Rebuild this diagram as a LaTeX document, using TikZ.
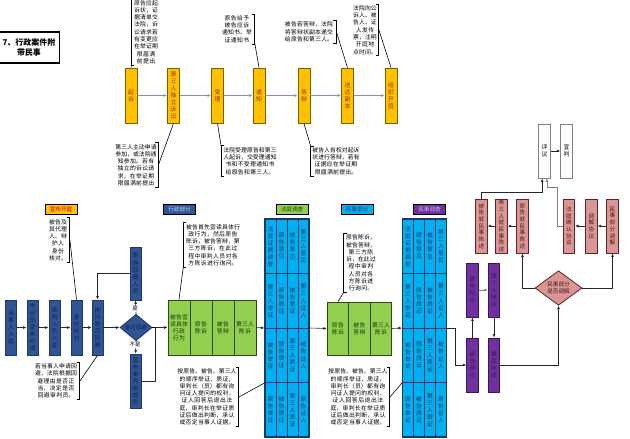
\documentclass[tikz,border=0pt]{standalone}
\usepackage{fontspec}
\setmainfont{Noto Sans CJK SC}
\XeTeXlinebreaklocale "zh"
\XeTeXlinebreakskip=0pt plus 1pt
\usepackage{xcolor}
\usetikzlibrary{shapes.geometric,arrows.meta}
\definecolor{yel}{HTML}{FFC000}
\definecolor{yeldraw}{HTML}{7F6000}
\definecolor{yeltext}{HTML}{8B3A0A}
\definecolor{navy}{HTML}{2F5597}
\definecolor{navydraw}{HTML}{1F3864}
\definecolor{navytext}{HTML}{15233F}
\definecolor{grn}{HTML}{92D050}
\definecolor{grndraw}{HTML}{2E4A14}
\definecolor{grntext}{HTML}{1E3A0C}
\definecolor{cyanf}{HTML}{00B0F0}
\definecolor{cyandraw}{HTML}{1F3864}
\definecolor{cyantext}{HTML}{1F3864}
\definecolor{purp}{HTML}{7030A0}
\definecolor{purpdraw}{HTML}{3B1858}
\definecolor{purptext}{HTML}{3A1D55}
\definecolor{rose}{HTML}{D99694}
\definecolor{rosedraw}{HTML}{632523}
\definecolor{rosetext}{HTML}{4A1A18}
\definecolor{arrgrey}{HTML}{7F93B0}
\newcommand{\vfont}{\fontsize{5}{6}\selectfont}
\newcommand{\nfont}{\fontsize{5}{6.2}\selectfont}
\newcommand{\brkL}[1]{\draw[brk] ([xshift=2.5pt]#1.north west) -- (#1.north west) -- (#1.south west) -- ([xshift=2.5pt]#1.south west);}
\newcommand{\brkR}[1]{\draw[brk] ([xshift=-2.5pt]#1.north east) -- (#1.north east) -- (#1.south east) -- ([xshift=-2.5pt]#1.south east);}
\tikzset{
  flowbox/.style={draw, line width=0.7pt, inner sep=0pt, align=center, font=\vfont, text width=5.4pt, minimum width=3.4mm, minimum height=16.2mm},
  ybox/.style={flowbox, fill=yel, draw=yeldraw, text=yeltext, minimum width=3.6mm, minimum height=16.5mm},
  dbox/.style={flowbox, fill=navy, draw=navydraw, text=navytext, minimum width=3.3mm, minimum height=16.5mm},
  cell/.style={flowbox, fill=cyanf, draw=cyandraw, text=cyantext, minimum width=3.3mm, minimum height=16.35mm},
  gcell/.style={flowbox, fill=grn, draw=grndraw, text=grntext, text width=5.8mm, minimum width=6.6mm, minimum height=16.5mm},
  pbox/.style={flowbox, fill=purp, draw=purpdraw, text=purptext},
  rbox/.style={flowbox, fill=rose, draw=rosedraw, text=rosetext, font=\fontsize{4.8}{5.7}\selectfont},
  wbox/.style={flowbox, fill=white, draw=gray},
  lab/.style={draw=black, line width=0.5pt, minimum width=9.6mm, minimum height=3mm, inner sep=0pt, font=\fontsize{4.8}{5}\selectfont},
  note/.style={font=\nfont, align=center, inner sep=1pt},
  brk/.style={line width=0.8pt},
  call/.style={line width=0.5pt},
  arr/.style={-{Latex[length=3pt,width=2.4pt]}, line width=0.5pt, draw=black!85},
  tarr/.style={arr, draw=arrgrey},
  dia/.style={diamond, draw, line width=0.7pt, inner sep=0pt, align=center},
}
\newcommand{\evgrid}[2]{%
  \foreach \c/\r/\t in {0/0/法庭证据调查, 1/0/原告意见, 2/0/被告意见, 3/0/第三人意见,
      0/1/第三人举证, 1/1/原告质证, 2/1/被告质证, 3/1/第三人证人,
      0/2/被告举证, 1/2/原告质证, 2/2/第三人质证, 3/2/被告证人,
      0/3/原告举证, 1/3/被告质证, 2/3/第三人质证, 3/3/原告证人}
    \node[cell] (#1-\r-\c) at ({#2-16.5+11*\c},{246.25+54.5*\r}) {\t};
  \node[draw=cyandraw, line width=0.9pt, minimum width=13.2mm, minimum height=65.4mm, inner sep=0pt] (#1) at (#2,328) {};
}

\begin{document}
\begin{tikzpicture}[x=0.3mm, y=-0.3mm]
  \useasboundingbox (0,0) rectangle (630,438);

  % title
  \node[draw, line width=1.2pt, minimum width=16.2mm, minimum height=9.3mm, align=center,
    font=\fontsize{6.8}{8.5}\selectfont\bfseries] (title) at (29,47.5) {7、行政案件附\\带民事};

  % upper row: from filing to hearing
  \node[ybox] (qisu)    at (131,95.5)   {起诉};
  \node[ybox] (dsr)     at (173.5,95.5) {第三人独立诉讼};
  \node[ybox] (shouli)  at (217.5,95.5) {受理};
  \node[ybox] (tongzhi) at (259,95.5)   {通知};
  \node[ybox] (dabian)  at (304,95.5)   {答辩};
  \node[ybox] (songda)  at (347.5,95.5) {送达副本};
  \node[ybox] (kaiting) at (391,95.5)   {组织开庭};
  \foreach \a/\b in {qisu/dsr, dsr/shouli, shouli/tongzhi, tongzhi/dabian, dabian/songda, songda/kaiting}
    \draw[tarr] (\a.east) -- (\b.west);

  % upper notes
  \node[note, text width=8mm]    (qisunote)   at (146,32)  {原告应起诉状，证据清单交法院，诉讼请求若有变更应在举证期限届满前提出};
  \node[note, text width=12.6mm] (dsrnote)    at (136,165) {第三人主动申请参加，或法院通知参加。若有独立的诉讼请求，在举证期限届满前提出};
  \node[note, text width=16.5mm] (shoulinote) at (250,161) {法院受理原告和第三人起诉，交受理通知书和不受理通知书给原告和第三人。};
  \node[note, text width=9.9mm]  (tzhnote)    at (237,29)  {原告给予被告应诉通知书、举证通知书};
  \node[note, text width=15.6mm] (sdnote)     at (309,32)  {被告若答辩，法院将答辩状副本递交给原告和第三人。};
  \node[note, text width=14.4mm] (dbnote)     at (336,161) {被告人有权对起诉状进行答辩，若有证据应在举证期限届满前提出。};
  \node[note, text width=7.5mm]  (ktnote)     at (365,30)  {法院向公诉人、被告人、证人发传票，注明开庭地点时间。};
  \brkL{qisunote} \brkR{dsrnote} \brkL{shoulinote} \brkR{tzhnote}
  \brkR{sdnote} \brkL{dbnote} \brkR{ktnote}
  \draw[call] (qisunote.south west) -- (qisu.north);
  \draw[call] (dsrnote.east) -- (dsr.south);
  \draw[call] (shoulinote.north west) -- (shouli.south);
  \draw[call] (tzhnote.south east) -- (tongzhi.north);
  \draw[call] (sdnote.east) -- (songda.north);
  \draw[call] (dbnote.north west) -- (dabian.south);
  \draw[call] (ktnote.east) -- (kaiting.north);

  % stage labels
  \node[lab, fill=yel, text=red!75!black]   (l1) at (61,209)    {宣布开庭};
  \node[lab, fill=navy, text=navy!25]       (l2) at (179.5,209) {行政部分};
  \node[lab, fill=grn, text=grntext]        (l3) at (292,209)   {法庭调查};
  \node[lab, fill=cyanf, text=cyantext]     (l4) at (357,209)   {民事部分};
  \node[lab, fill=purp, text=purp!35]       (l5) at (429.5,209) {民事调查};

  % opening of the hearing
  \node[dbox] (ruting)  at (11,327.5)   {当事人入庭};
  \node[dbox] (jilv)    at (32.5,327.5) {书记员宣布纪律};
  \node[dbox] (shenpan) at (54.5,327.5) {审判人员入庭};
  \node[dbox] (hedui)   at (76.5,327.5) {身份核对};
  \node[dbox] (xunwen)  at (97.5,327.5) {询问是否回避};
  \node[dia, fill=navy, draw=navydraw, text=navytext, minimum width=9.6mm, minimum height=5.7mm,
    font=\fontsize{4.6}{5}\selectfont] (shifou) at (136,327.5) {是否回避};
  \node[dbox, minimum height=15.9mm] (genghuan) at (135.5,273.5) {更换回避人员};
  \node[dbox, minimum height=16.2mm] (xuanbu)   at (135.5,381)   {宣布审判组成员};
  \foreach \a/\b in {ruting/jilv, jilv/shenpan, shenpan/hedui, hedui/xunwen, xunwen/shifou}
    \draw[arr] (\a.east) -- (\b.west);
  \draw[arr] (shifou.north) -- (genghuan.south);
  \draw[arr] (shifou.south) -- (xuanbu.north);
  \draw[arr] (genghuan.west) -| (xunwen.north);
  \node[fill=white, inner sep=0.5pt, font=\fontsize{4.6}{5}\selectfont] (shi)   at (135,309) {是};
  \node[fill=white, inner sep=0.5pt, font=\fontsize{4.6}{5}\selectfont] (bushi) at (135,345) {不是};
  \node[note, text width=6.3mm]  (hdnote) at (58,240) {被告及其代理人、辩护人身份核对。};
  \node[note, text width=13.5mm] (hbnote) at (56,381) {若当事人申请回避，法院根据回避理由是否正当，决定是否回避审判员。};
  \brkR{hdnote} \brkR{hbnote}
  \draw[call] (hdnote.east) -- (hedui.north);
  \draw[call] (hbnote.east) -- (xunwen.south);

  % administrative part
  \coordinate (jn) at (155,327.5);
  \node[gcell] (gA1) at (179,327.5) {被告宣读具体行政行为};
  \node[gcell] (gA2) at (201,327.5) {原告陈诉};
  \node[gcell] (gA3) at (223,327.5) {被告答辩};
  \node[gcell] (gA4) at (245,327.5) {第三人陈诉};
  \draw[call] (shifou.east) -- (jn);
  \draw[arr] (xuanbu.east) -| (jn) -- (gA1.west);
  \node[note, text width=17mm] (gAnote) at (213,245) {被告首先宣读具体行政行为，然后原告陈诉，被告答辩，第三方陈诉，在此过程中审判人员对各方陈诉进行询问。};
  \brkL{gAnote}
  \draw[call] (gAnote.south west) -- (gA1.north);

  \evgrid{grid1}{287}
  \draw[arr] (gA4.east) -- (grid1.west);
  \node[note, text width=18.3mm] (g1note) at (207,397) {按原告、被告、第三人的顺序举证、质证，审判长（员）都有询问证人提问的权利，证人回答后退出法庭，审判长在举证质证后做出判断，承认或否定当事人证据。};
  \brkR{g1note}
  \draw[call] (g1note.east) -- (grid1-2-0.south west);

  % civil part
  \node[gcell, minimum width=6.5mm, minimum height=15.9mm] (gB1) at (338,328.5)   {原告陈诉};
  \node[gcell, minimum width=6.5mm, minimum height=15.9mm] (gB2) at (359.5,328.5) {被告答辩};
  \node[gcell, minimum width=6.5mm, minimum height=15.9mm] (gB3) at (381,328.5)   {第三人陈诉};
  \draw[arr] (grid1.east) -- (gB1.west);
  \node[note, text width=9.6mm] (gBnote) at (361,263) {原告陈诉，被告答辩，第三方陈诉，在此过程中审判人员对各方陈诉进行询问。};
  \brkL{gBnote}
  \draw[call] (gBnote.south west) -- (gB1.north);

  \evgrid{grid2}{424.5}
  \draw[arr] (gB3.east) -- (grid2.west);
  \node[note, text width=18.3mm] (g2note) at (358,397) {按原告、被告、第三人的顺序举证、质证，审判长（员）都有询问证人提问的权利，证人回答后退出法庭，审判长在举证质证后做出判断，承认或否定当事人证据。};
  \brkR{g2note}
  \draw[call] (g2note.east) -- (grid2-2-0.south west);

  % debate
  \node[pbox] (bA) at (472.5,365) {原告辩论};
  \node[pbox] (bB) at (472.5,290) {被告辩论};
  \node[pbox] (bC) at (494,290)   {第三人辩论};
  \node[pbox] (bD) at (494,365)   {最后陈述};
  \coordinate (jg) at (455,328);
  \draw[arr] (grid2.east) -- (jg) |- (bA.west);
  \draw[arr] (bA.north) -- (bB.south);
  \draw[arr, draw=gray] (bB.east) -- (bC.west);
  \draw[arr] (bC.south) -- (bD.north);

  % mediation of the civil part
  \node[dia, fill=rose, draw=rosedraw, text=rosetext, minimum width=14.1mm, minimum height=9mm,
    font=\fontsize{4.8}{5.8}\selectfont] (tiaojie) at (558.5,288) {民事部分\\是否调解};
  \draw[arr] (bD.east) -| (tiaojie.south);
  \node[rbox] (pL1) at (522.5,226) {原告就民事陈述};
  \node[rbox] (pL2) at (501.5,226) {第三人就民事陈述};
  \node[rbox] (pL3) at (481.5,226) {被告就民事陈述};
  \node[rbox] (pR1) at (612.5,226) {民事部分调解};
  \node[rbox] (pR2) at (591.5,226) {调解协议};
  \node[rbox] (pR3) at (569,226)   {法庭确认协议};
  \draw[arr] (tiaojie.west) -| (pL1.south);
  \draw[arr] (tiaojie.east) -| (pR1.south);
  \foreach \a/\b in {pL1/pL2, pL2/pL3, pR1/pR2, pR2/pR3}
    \draw[arr] (\a.west) -- (\b.east);

  % deliberation and judgment
  \node[wbox] (pingyi)  at (544.5,151) {评议};
  \node[wbox] (xuanpan) at (566.5,151) {宣判};
  \draw[arr] (pingyi.east) -- (xuanpan.west);
  \coordinate (jL) at (481.5,192);
  \coordinate (jR) at (557,187);
  \draw[arr] (pL3.north) -- (jL) -| ([xshift=-2pt]pingyi.south);
  \draw[arr, draw=gray] (pR3.west) -| (jR) -| ([xshift=2pt]pingyi.south);
\end{tikzpicture}
\end{document}
